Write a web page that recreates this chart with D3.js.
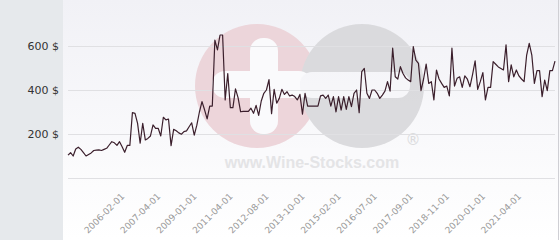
<!DOCTYPE html>
<html><head><meta charset="utf-8">
<script src="https://cdn.jsdelivr.net/npm/d3@7"></script>
<style>body{margin:0;background:#fff}svg{display:block}</style>
</head><body><svg id="c" width="560" height="240"></svg>
<script>
const values = [
104,115,100,132,140,130,115,100,107,114,
125,127,128,125,130,135,150,165,160,148,
165,142,117,148,148,297,294,248,158,248,
173,180,191,241,226,226,191,276,264,268,
147,221,215,205,199,211,214,233,251,195,
240,300,347,310,269,327,327,627,582,650,
650,355,475,320,320,405,365,301,303,303,
303,317,294,330,285,350,385,400,447,292,
403,340,362,403,380,392,373,377,370,355,
380,290,385,327,327,327,327,327,373,377,
362,377,327,370,301,370,309,370,312,370,
324,385,400,297,483,498,385,362,400,400,
385,362,377,395,438,395,590,460,450,506,
475,455,445,438,597,536,521,397,450,518,
430,438,355,491,450,430,412,418,373,590,
418,453,460,412,464,449,415,470,533,403,
438,479,355,412,412,529,517,505,498,491,
605,438,514,460,491,464,450,438,559,612,
559,430,488,488,370,445,397,488,488,531];
const tickIndex = [20,34,48,62,76,90,104,118,132,146,160,174];
const tickLabels = ["2006-02-01","2007-04-01","2009-01-01","2011-04-01","2012-08-01","2013-10-01",
  "2015-02-01","2016-07-01","2017-09-01","2018-11-01","2020-01-01","2021-04-01"];
const yTicks = [0,200,400,600];
const watermark = "www.Wine-Stocks.com";

const svg = d3.select("#c");
const W = 560, H = 240;
const x = d3.scaleLinear().domain([0, values.length - 1]).range([68, 555]);
const y = d3.scaleLinear().domain([0, 600]).range([178, 46]);

const defs = svg.append("defs");
const grad = defs.append("linearGradient").attr("id","bg").attr("x1",0).attr("y1",0).attr("x2",0).attr("y2",1);
grad.append("stop").attr("offset","0%").attr("stop-color","#f1f1f6");
grad.append("stop").attr("offset","100%").attr("stop-color","#ffffff");

svg.append("rect").attr("x",0).attr("y",0).attr("width",W).attr("height",H).attr("fill","url(#bg)");
svg.append("rect").attr("x",0).attr("y",0).attr("width",63).attr("height",H).attr("fill","#e6e9ec");
svg.append("line").attr("x1",558.5).attr("x2",558.5).attr("y1",0).attr("y2",H).attr("stroke","#cfcfd4");

// watermark
const wm = svg.append("g").attr("opacity",0.9);
wm.append("rect").attr("x",197).attr("y",148).attr("width",232).attr("height",26).attr("fill","#fbfbfd");
wm.append("circle").attr("cx",257).attr("cy",86).attr("r",62).attr("fill","#ecd2d7");
wm.append("circle").attr("cx",362).attr("cy",86).attr("r",62).attr("fill","#d8d8db");
wm.append("rect").attr("x",250).attr("y",38).attr("width",28).attr("height",96).attr("rx",13).attr("fill","#fbfbfd");
wm.append("rect").attr("x",212).attr("y",71).attr("width",100).attr("height",27).attr("rx",13).attr("fill","#fbfbfd");
wm.append("rect").attr("x",300).attr("y",72).attr("width",110).attr("height",26).attr("rx",12).attr("fill","#f6f6f9");
wm.append("text").attr("x",413).attr("y",145).attr("text-anchor","middle")
  .attr("font-family","DejaVu Sans, sans-serif").attr("font-size",15).attr("fill","#d8d8da").text("®");
wm.append("text").attr("x",312).attr("y",168).attr("text-anchor","middle")
  .attr("font-family","Liberation Sans, Arial, sans-serif").attr("font-weight","bold").attr("font-size",16)
  .attr("fill","#e2e2e4").text(watermark);

// grid
svg.append("g").selectAll("line").data(yTicks).join("line")
  .attr("x1",68).attr("x2",555).attr("y1",d=>Math.round(y(d))+0.5).attr("y2",d=>Math.round(y(d))+0.5)
  .attr("stroke","#e0e0e3").attr("stroke-width",1);

// y labels
svg.append("g").selectAll("text").data(yTicks.filter(d=>d>0)).join("text")
  .attr("x",59).attr("y",d=>y(d)+4).attr("text-anchor","end")
  .attr("font-family","DejaVu Sans, sans-serif").attr("font-size",11).attr("fill","#333")
  .text(d=>d+" $");

// x axis labels
const xAxis = d3.axisBottom(x).tickValues(tickIndex).tickSize(0)
  .tickFormat((d,i)=>tickLabels[i]);
const gx = svg.append("g").attr("transform","translate(0,178)").call(xAxis);
gx.select(".domain").remove();
gx.selectAll("text").attr("font-family","DejaVu Sans, sans-serif").attr("font-size",9).attr("fill","#999")
  .attr("text-anchor","end").attr("dy",null).attr("y",0)
  .attr("transform","translate(5,19) rotate(-45)");

// line
svg.append("path").datum(values)
  .attr("d", d3.line().x((d,i)=>x(i)).y(d=>y(d)))
  .attr("fill","none").attr("stroke","#3b1f2c").attr("stroke-width",1.2).attr("stroke-linejoin","round");
</script></body></html>
